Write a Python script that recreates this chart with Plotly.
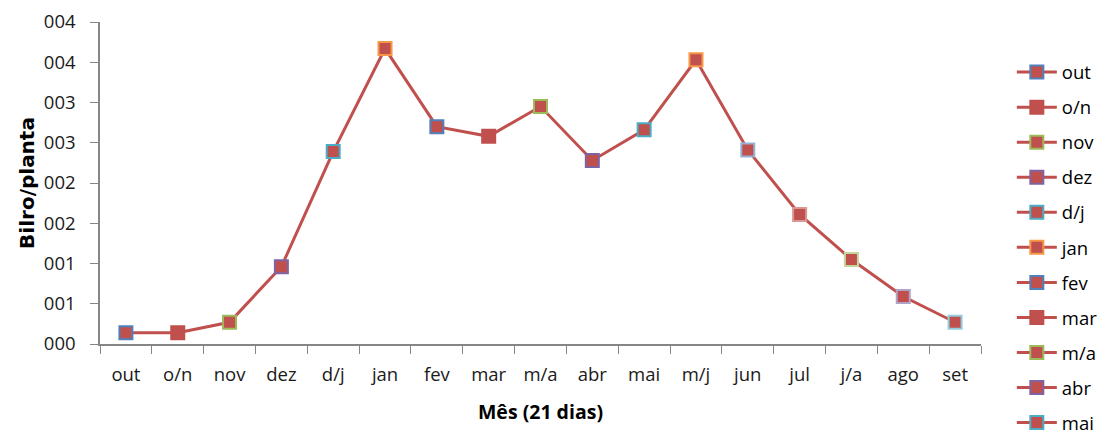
import plotly.graph_objects as go

# Categories (21-day periods) and mean counts per plant
months = ["out", "o/n", "nov", "dez", "d/j", "jan", "fev", "mar", "m/a",
          "abr", "mai", "m/j", "jun", "jul", "j/a", "ago", "set"]
values = [0.14, 0.14, 0.27, 0.96, 2.39, 3.67, 2.70, 2.58, 2.95,
          2.28, 2.66, 3.53, 2.41, 1.61, 1.05, 0.59, 0.27]
# Marker outline colours, one per period
outline = ["#4F81BD", "#C0504D", "#9BBB59", "#8064A2", "#4BACC6", "#F79646",
           "#4F81BD", "#C0504D", "#9BBB59", "#8064A2", "#4BACC6", "#F79646",
           "#95B3D7", "#D99694", "#C3D69B", "#B3A2C7", "#93CDDD"]
ytick_vals = [0, 0.5, 1.0, 1.5, 2.0, 2.5, 3.0, 3.5, 4.0]
ytick_text = ["000", "001", "001", "002", "002", "003", "003", "004", "004"]
# legend entries that fit in the frame
legend_count = 11

RED = "#C0504D"
FONT = "'Open Sans', sans-serif"

fig = go.Figure()

# connecting line
fig.add_trace(go.Scatter(x=months, y=values, mode="lines",
                         line=dict(color=RED, width=3),
                         showlegend=False, hoverinfo="skip"))

# one trace per period so each gets its own legend entry
for i, (m, v, c) in enumerate(zip(months, values, outline)):
    fig.add_trace(go.Scatter(
        x=[m], y=[v], mode="lines+markers", name=m,
        legendgroup=m, showlegend=i < legend_count,
        line=dict(color=RED, width=3),
        marker=dict(symbol="square", size=13, color=RED,
                    line=dict(color=c, width=2)),
    ))

axis_common = dict(showline=True, linecolor="#868686", linewidth=1.5,
                   ticks="outside", tickcolor="#868686", ticklen=8,
                   showgrid=False, zeroline=False,
                   tickfont=dict(family=FONT, size=18.5, color="#1a1a1a"))

fig.update_layout(
    width=1119, height=437,
    margin=dict(l=100, r=138, t=22, b=93, autoexpand=False),
    paper_bgcolor="white", plot_bgcolor="white",
    font=dict(family=FONT, color="#000000"),
    xaxis=dict(**axis_common, tickson="boundaries",
               range=[-0.5, len(months) - 0.5], ticklabelstandoff=13,
               title=dict(text="<b>Mês (21 dias)</b>",
                          font=dict(family=FONT, size=19.5), standoff=20)),
    yaxis=dict(**axis_common, range=[0, 4.0], ticklabelstandoff=11,
               tickvals=ytick_vals, ticktext=ytick_text,
               title=dict(text="<b>Bilro/planta</b>",
                          font=dict(family="'DejaVu Sans', sans-serif", size=20),
                          standoff=4)),
    legend=dict(x=1.035, y=0.902, xanchor="left", yanchor="top",
                font=dict(family=FONT, size=18.5), tracegroupgap=8,
                bgcolor="rgba(0,0,0,0)", itemwidth=40, maxheight=400),
)

fig.write_html("out.html")
